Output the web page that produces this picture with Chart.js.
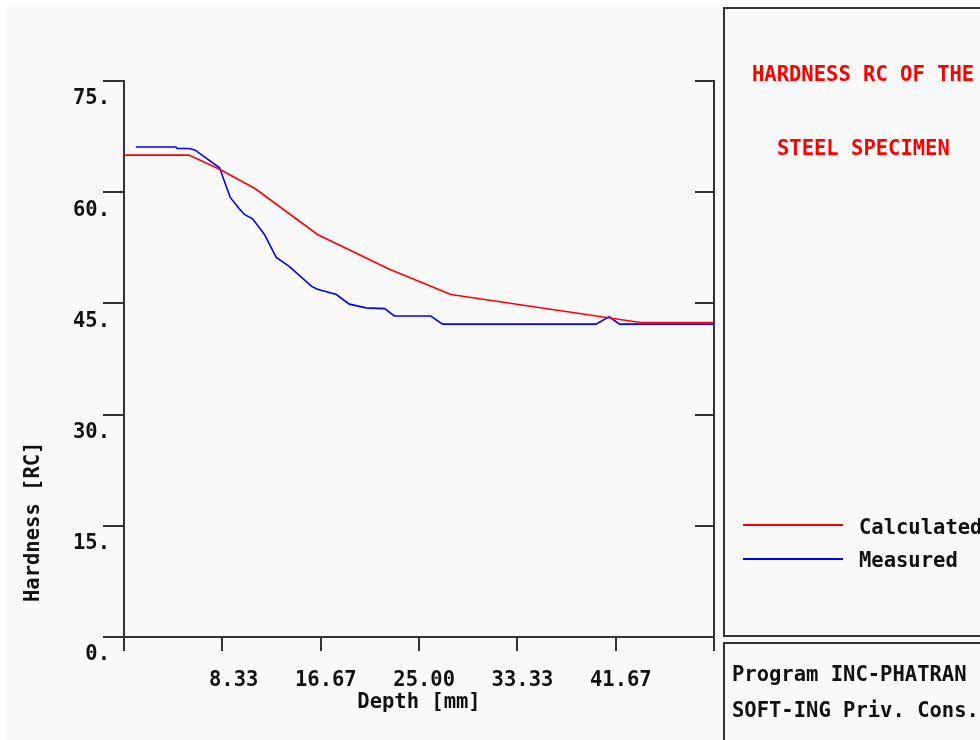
<!DOCTYPE html>
<html>
<head>
<meta charset="utf-8">
<script src="https://cdn.jsdelivr.net/npm/chart.js@4/dist/chart.umd.min.js"></script>
<style>
  html, body { margin: 0; padding: 0; background: #fff; overflow: hidden; }
  #page { position: absolute; left: 7px; top: 7px; width: 973px; height: 733px; background: #f9f9f9; }
  #plot { position: absolute; left: 0; top: 0; }
  .mono { font-family: "DejaVu Sans Mono", monospace; font-weight: bold; font-size: 20.5px; line-height: 24px; white-space: nowrap; position: absolute; color: #111; }
  .box { position: absolute; border: 2px solid #333; box-sizing: border-box; }
  .key { position: absolute; height: 0; border-top: 2px solid; width: 100px; }
</style>
</head>
<body>
<div id="page"></div>
<canvas id="plot" width="980" height="740"></canvas>

<div class="box" style="left:723px; top:7px; width:300px; height:630px;"></div>
<div class="box" style="left:723px; top:642px; width:300px; height:120px;"></div>

<div class="mono" style="left:752px; top:62px; color:#ff0000;">HARDNESS RC OF THE</div>
<div class="mono" style="left:777px; top:136px; color:#ff0000;">STEEL SPECIMEN</div>

<div class="key" style="left:743px; top:524px; border-color:#ff0000;"></div>
<div class="key" style="left:743px; top:558px; border-color:#0000ff;"></div>
<div class="mono" style="left:859px; top:515px;">Calculated</div>
<div class="mono" style="left:859px; top:548px;">Measured</div>

<div class="mono" style="left:732px; top:662px;">Program INC-PHATRAN</div>
<div class="mono" style="left:732px; top:698px;">SOFT-ING Priv. Cons.</div>

<div class="mono" style="left:-48px; top:510px; transform:rotate(-90deg); width:160px; text-align:center;">Hardness [RC]</div>

<script>
// hardness profile along the specimen depth
const calcDepth    = [0, 5.5, 8.1, 11.1, 16.4, 22.5, 27.7, 43.9, 50];
const calcHardness = [65.0, 65.0, 63.1, 60.5, 54.3, 49.6, 46.2, 42.4, 42.4];

const measDepth    = [1.0, 4.4, 4.5, 5.5, 6.0, 8.1, 8.5, 9.0, 9.7, 10.2, 10.9, 11.9, 12.9, 14.0,
                      15.9, 16.4, 18.0, 19.1, 20.5, 22.1, 22.9, 26.0, 27.0, 40.0, 41.1, 42.0, 50.0];
const measHardness = [66.1, 66.1, 65.9, 65.9, 65.7, 63.3, 61.5, 59.3, 57.9, 57.0, 56.4, 54.3, 51.2, 50.0,
                      47.3, 46.9, 46.2, 44.9, 44.4, 44.3, 43.3, 43.3, 42.2, 42.2, 43.2, 42.2, 42.2];

const xTickValues = [0, 8.333, 16.667, 25, 33.333, 41.667, 50];
const xTickLabels = ['', '8.33', '16.67', '25.00', '33.33', '41.67', ''];
const yTickValues = [0, 15, 30, 45, 60, 75];
const yTickLabels = ['0.', '15.', '30.', '45.', '60.', '75.'];

const pts = (xs, ys) => xs.map((x, i) => ({ x, y: ys[i] }));
const axisColor = '#333';
const monoFont = { family: 'DejaVu Sans Mono', size: 20.5, weight: 'bold' };

new Chart(document.getElementById('plot'), {
  type: 'line',
  data: {
    datasets: [
      { label: 'Calculated', data: pts(calcDepth, calcHardness), borderColor: '#ff0000', borderWidth: 1.6, pointRadius: 0, tension: 0 },
      { label: 'Measured', data: pts(measDepth, measHardness), borderColor: '#0000ff', borderWidth: 1.6, pointRadius: 0, tension: 0 }
    ]
  },
  options: {
    responsive: false,
    animation: false,
    devicePixelRatio: 1,
    layout: { padding: { left: 0, top: 81, right: 266, bottom: 0 } },
    plugins: { legend: { display: false }, tooltip: { enabled: false } },
    scales: {
      x: {
        type: 'linear', min: 0, max: 50,
        afterBuildTicks: s => { s.ticks = xTickValues.map(v => ({ value: v })); },
        afterFit: s => { s.height = 103; },
        border: { color: axisColor, width: 2 },
        grid: { drawOnChartArea: false, color: axisColor, lineWidth: 2, tickLength: 14 },
        ticks: {
          color: '#111', font: monoFont, align: 'end', labelOffset: 36, padding: 17, maxRotation: 0, autoSkip: false,
          callback: (v, i) => xTickLabels[i]
        },
        title: { display: true, text: 'Depth [mm]', color: '#111', font: monoFont, padding: { top: 0, bottom: 25 } }
      },
      y: {
        min: 0, max: 75,
        afterBuildTicks: s => { s.ticks = yTickValues.map(v => ({ value: v })); },
        afterFit: s => { s.width = 124; },
        border: { color: axisColor, width: 2 },
        grid: { drawOnChartArea: false, color: axisColor, lineWidth: 2, tickLength: 21 },
        ticks: {
          color: '#111', font: monoFont, labelOffset: 18, padding: -7, autoSkip: false,
          callback: (v, i) => yTickLabels[i]
        }
      },
      y2: {
        position: 'right', min: 0, max: 75,
        afterBuildTicks: s => { s.ticks = yTickValues.map(v => ({ value: v })); },
        afterFit: s => { s.width = 0; },
        border: { color: axisColor, width: 2 },
        grid: { drawOnChartArea: false, color: axisColor, lineWidth: 2, tickLength: -19 },
        ticks: { display: false }
      }
    }
  }
});
</script>
</body>
</html>
